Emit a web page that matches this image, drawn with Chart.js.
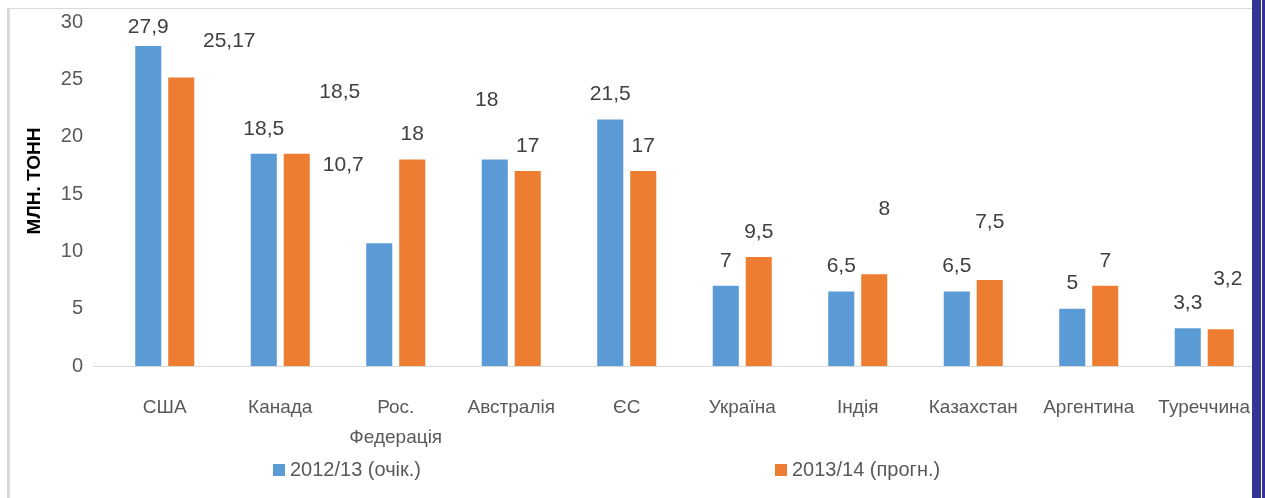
<!DOCTYPE html>
<html>
<head>
<meta charset="utf-8">
<script src="https://cdn.jsdelivr.net/npm/chart.js@4/dist/chart.umd.min.js"></script>
<style>
    html, body { margin: 0; padding: 0; background: #fff; }
    #wrap { position: relative; width: 1265px; height: 498px; }
</style>
</head>
<body>
<div id="wrap"><canvas id="grainChart"></canvas></div>
<script>
// Countries (two-line label for Russia)
const countries = [['США'], ['Канада'], ['Рос.', 'Федерація'], ['Австралія'], ['ЄС'],
    ['Україна'], ['Індія'], ['Казахстан'], ['Аргентина'], ['Туреччина']];

// Production, mln tonnes
const expected2012 = [27.9, 18.5, 10.7, 18, 21.5, 7, 6.5, 6.5, 5, 3.3];
const forecast2013 = [25.17, 18.5, 18, 17, 17, 9.5, 8, 7.5, 7, 3.2];

const seriesNames = ['2012/13 (очік.)', '2013/14 (прогн.)'];
const yTicks = [0, 5, 10, 15, 20, 25, 30];
const yTitle = 'МЛН. ТОНН';

// Label nudges, as they were dragged by hand in the original
const labelShift = [
    { dx: [0, 0, -36, -8, 0, 0, 0, 0, 0, 0], dy: [6, 0, -53, -34, 0, 0, 0, 0, 0, 0] },
    { dx: [48, 43, 0, 0, 0, 0, 10, 0, 0, 7], dy: [-11, -37, 0, 0, 0, 0, -40, -33, 0, -25] }
];

const FONT = '"Liberation Sans", Arial, sans-serif';

// Frame: grey border top/left and the blue stripe on the right
const framePlugin = {
    id: 'frame',
    beforeDraw(chart) {
        const ctx = chart.ctx;
        ctx.save();
        ctx.fillStyle = '#d9d9d9';
        ctx.fillRect(7, 8, 1245, 1);
        ctx.fillRect(7, 8, 3, 490);
        // baseline runs a bit left of the first category in the original
        ctx.fillRect(93, chart.scales.y.getPixelForValue(0), 14, 1);
        ctx.restore();
    },
    afterDraw(chart) {
        const ctx = chart.ctx;
        ctx.save();
        ctx.fillStyle = '#343497';
        ctx.fillRect(1252, 0, 9, 498);
        ctx.fillRect(1262, 0, 3, 498);
        ctx.restore();
    }
};

// Rotated axis title, placed where the original has it
const axisTitle = {
    id: 'axisTitle',
    afterDraw(chart) {
        const ctx = chart.ctx;
        ctx.save();
        ctx.translate(35, 181);
        ctx.rotate(-Math.PI / 2);
        ctx.font = 'bold 19px ' + FONT;
        ctx.fillStyle = '#000';
        ctx.textAlign = 'center';
        ctx.textBaseline = 'middle';
        ctx.fillText(yTitle, 0, 0);
        ctx.restore();
    }
};

// Value labels above the bars
const valueLabels = {
    id: 'valueLabels',
    afterDatasetsDraw(chart) {
        const ctx = chart.ctx;
        ctx.save();
        ctx.font = '21px ' + FONT;
        ctx.fillStyle = '#404040';
        ctx.textAlign = 'center';
        ctx.textBaseline = 'middle';
        chart.data.datasets.forEach((ds, di) => {
            const meta = chart.getDatasetMeta(di);
            meta.data.forEach((bar, i) => {
                const text = String(ds.data[i]).replace('.', ',');
                const x = bar.x + labelShift[di].dx[i];
                const y = bar.y - 25 + labelShift[di].dy[i];
                ctx.fillText(text, x, y);
            });
        });
        ctx.restore();
    }
};

// Legend spread out under the chart
const spreadLegend = {
    id: 'spreadLegend',
    afterDraw(chart) {
        const ctx = chart.ctx;
        const xs = [273, 775];
        const y = 470;
        ctx.save();
        ctx.font = '20px ' + FONT;
        ctx.textBaseline = 'middle';
        ctx.textAlign = 'left';
        chart.data.datasets.forEach((ds, di) => {
            ctx.fillStyle = ds.backgroundColor;
            ctx.fillRect(xs[di], y - 6, 12, 12);
            ctx.fillStyle = '#595959';
            ctx.fillText(ds.label, xs[di] + 17, y);
        });
        ctx.restore();
    }
};

const ctx = document.getElementById('grainChart').getContext('2d');
new Chart(ctx, {
    type: 'bar',
    data: {
        labels: countries,
        datasets: [{
            label: seriesNames[0],
            data: expected2012,
            backgroundColor: '#5B9BD5'
        }, {
            label: seriesNames[1],
            data: forecast2013,
            backgroundColor: '#ED7D31'
        }]
    },
    options: {
        responsive: true,
        maintainAspectRatio: false,
        animation: false,
        layout: { padding: { top: 22, left: 0, right: 3, bottom: 0 } },
        datasets: {
            bar: { categoryPercentage: 0.571, barPercentage: 0.79 }
        },
        scales: {
            x: {
                grid: { display: false, tickLength: 27 },
                border: { display: true, color: '#d9d9d9', width: 1 },
                ticks: {
                    color: '#595959',
                    font: { family: FONT, size: 19, lineHeight: '30px' },
                    maxRotation: 0,
                    autoSkip: false,
                    padding: 0
                },
                afterFit(scale) { scale.height = 132; }
            },
            y: {
                min: 0,
                max: 30,
                afterBuildTicks(scale) { scale.ticks = yTicks.map(v => ({ value: v })); },
                grid: { display: false },
                border: { display: false },
                ticks: {
                    color: '#595959',
                    font: { family: FONT, size: 20, lineHeight: '8px' },
                    padding: 16
                },
                afterFit(scale) { scale.width = 107; }
            }
        },
        plugins: {
            legend: { display: false },
            tooltip: { enabled: false }
        }
    },
    plugins: [framePlugin, axisTitle, valueLabels, spreadLegend]
});
</script>
</body>
</html>
